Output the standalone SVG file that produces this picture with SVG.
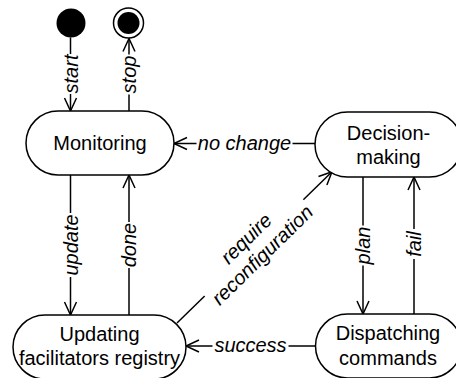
<svg xmlns="http://www.w3.org/2000/svg" width="456" height="378" viewBox="0 0 456 378">
  <style>
    .node { fill: #ffffff; stroke: #000000; stroke-width: 1.5; }
    .ntext { font-family: "Liberation Sans", Arial, sans-serif; font-size: 20px; fill: #000000; text-anchor: middle; }
    .edge { fill: none; stroke: #000000; stroke-width: 1.5; marker-end: url(#arrow); }
    .ltext { font-family: "Liberation Sans", Arial, sans-serif; font-size: 20px; font-style: italic; fill: #000000; text-anchor: middle; }
    .lbg { fill: #ffffff; stroke: none; }
  </style>
  <defs>
    <marker id="arrow" markerUnits="userSpaceOnUse" markerWidth="16" markerHeight="16" viewBox="-1 -1 16 16" refX="13" refY="6" orient="auto" overflow="visible">
      <path d="M0,0 L13,6 L0,12" fill="none" stroke="#000000" stroke-width="1.5"/>
    </marker>
  </defs>
  <rect width="456" height="378" fill="#ffffff"/>

  <g id="connectors">
    <path id="e-start" class="edge" d="M70.5,37.5 L70.5,111"/>
    <path id="e-stop" class="edge" d="M129,111 L129,38.5"/>
    <path id="e-update" class="edge" d="M70.5,175 L70.5,315"/>
    <path id="e-done" class="edge" d="M129,315 L129,175"/>
    <path id="e-nochange" class="edge" d="M315,143.5 L174,143.5"/>
    <path id="e-plan" class="edge" d="M363,177 L363,314"/>
    <path id="e-fail" class="edge" d="M414,314 L414,177"/>
    <path id="e-success" class="edge" d="M315.5,346 L186,346"/>
    <path id="e-reconf" class="edge" d="M177,323 L332,171.7"/>

    <g transform="translate(70.5,74) rotate(-90)">
      <rect class="lbg" x="-20" y="-3" width="40" height="6"/>
      <text class="ltext" x="0" y="7">start</text>
    </g>
    <g transform="translate(129,74.5) rotate(-90)">
      <rect class="lbg" x="-20" y="-3" width="40" height="6"/>
      <text class="ltext" x="0" y="7">stop</text>
    </g>
    <g transform="translate(70.5,245) rotate(-90)">
      <rect class="lbg" x="-32" y="-3" width="64" height="6"/>
      <text class="ltext" x="0" y="7">update</text>
    </g>
    <g transform="translate(129,245) rotate(-90)">
      <rect class="lbg" x="-23" y="-3" width="46" height="6"/>
      <text class="ltext" x="0" y="7">done</text>
    </g>
    <g transform="translate(363,245.5) rotate(-90)">
      <rect class="lbg" x="-20" y="-3" width="40" height="6"/>
      <text class="ltext" x="0" y="7">plan</text>
    </g>
    <g transform="translate(414,244) rotate(-90)">
      <rect class="lbg" x="-15" y="-3" width="30" height="6"/>
      <text class="ltext" x="0" y="7">fail</text>
    </g>
    <g transform="translate(244.5,143.5)">
      <rect class="lbg" x="-48" y="-3" width="96" height="6"/>
      <text class="ltext" x="0" y="6">no change</text>
    </g>
    <g transform="translate(250.5,346)">
      <rect class="lbg" x="-38" y="-3" width="76" height="6"/>
      <text class="ltext" x="0" y="6">success</text>
    </g>
    <g transform="translate(254.5,247) rotate(-44.4)">
      <rect class="lbg" x="-70" y="-4" width="138" height="8"/>
      <text class="ltext" x="0" y="-5">require</text>
      <text class="ltext" x="0" y="18">reconfiguration</text>
    </g>
  </g>

  <g id="initial">
    <circle cx="71" cy="23" r="14.5" fill="#000000"/>
  </g>
  <g id="final">
    <circle cx="128.5" cy="23" r="15" fill="#ffffff" stroke="#000000" stroke-width="1.5"/>
    <circle cx="128.5" cy="23" r="11" fill="#000000"/>
  </g>
  <g id="monitoring">
    <rect class="node" x="26" y="111" width="148" height="64" rx="32" ry="32"/>
    <text class="ntext" x="100" y="150">Monitoring</text>
  </g>
  <g id="decision-making">
    <rect class="node" x="315" y="112" width="147" height="65" rx="32.5" ry="32.5"/>
    <text class="ntext" x="388.5" y="139.5">Decision-</text>
    <text class="ntext" x="388.5" y="163.5">making</text>
  </g>
  <g id="updating">
    <rect class="node" x="13" y="315" width="173" height="64" rx="32" ry="32"/>
    <text class="ntext" x="99.5" y="341">Updating</text>
    <text class="ntext" x="99.5" y="365">facilitators registry</text>
  </g>
  <g id="dispatching">
    <rect class="node" x="315.5" y="314" width="146" height="64" rx="32" ry="32"/>
    <text class="ntext" x="388" y="340">Dispatching</text>
    <text class="ntext" x="388" y="365">commands</text>
  </g>
</svg>
